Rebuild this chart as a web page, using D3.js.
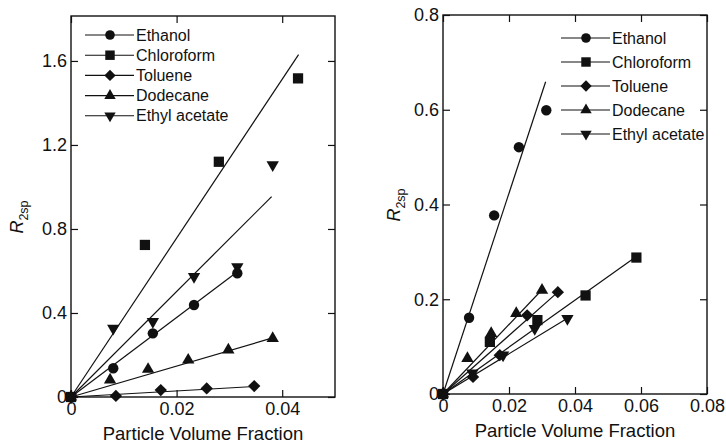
<!DOCTYPE html>
<html>
<head>
<meta charset="utf-8">
<script src="https://cdn.jsdelivr.net/npm/d3@7"></script>
<style>
  body { margin: 0; background: #fff; }
  text { font-family: "Liberation Sans", Arial, sans-serif; fill: #111; }
</style>
</head>
<body>
<div id="chart"></div>
<script>
// series names, same order in both panels
const solvents = ["Ethanol", "Chloroform", "Toluene", "Dodecane", "Ethyl acetate"];

// left panel: [volume fraction, R2sp]
const leftEthanol = [[0, 0], [0.0080, 0.137], [0.0155, 0.303], [0.0233, 0.438], [0.0315, 0.589]];
const leftChloroform = [[0, 0], [0.0140, 0.724], [0.0280, 1.12], [0.0430, 1.517]];
const leftToluene = [[0, 0], [0.0085, 0.005], [0.0170, 0.033], [0.0257, 0.041], [0.0347, 0.052]];
const leftDodecane = [[0, 0], [0.0074, 0.081], [0.0146, 0.132], [0.0222, 0.176], [0.0298, 0.224], [0.0382, 0.279]];
const leftEthylAcetate = [[0, 0], [0.0080, 0.327], [0.0155, 0.359], [0.0233, 0.573], [0.0315, 0.62], [0.0382, 1.105]];
// fitted lines through the origin (end points)
const leftFits = [
  [[0, 0], [0.0312, 0.59]],
  [[0, 0], [0.0431, 1.63]],
  [[0, 0], [0.0347, 0.05]],
  [[0, 0], [0.0380, 0.28]],
  [[0, 0], [0.0380, 0.954]]
];
const leftXTicks = [0, 0.02, 0.04];
const leftYTicks = [0, 0.4, 0.8, 1.2, 1.6];

// right panel
const rightEthanol = [[0, 0], [0.0079, 0.161], [0.0155, 0.377], [0.0230, 0.521], [0.0313, 0.599]];
const rightChloroform = [[0, 0], [0.0142, 0.110], [0.0286, 0.156], [0.0432, 0.208], [0.0586, 0.288]];
const rightToluene = [[0, 0], [0.0091, 0.036], [0.0172, 0.082], [0.0255, 0.166], [0.0348, 0.215]];
const rightDodecane = [[0, 0], [0.0074, 0.075], [0.0146, 0.128], [0.0222, 0.170], [0.0300, 0.219]];
const rightEthylAcetate = [[0, 0], [0.0089, 0.044], [0.0182, 0.082], [0.0278, 0.138], [0.0377, 0.159]];
const rightFits = [
  [[0, 0], [0.0311, 0.659]],
  [[0, 0], [0.0586, 0.29]],
  [[0, 0], [0.0348, 0.215]],
  [[0, 0], [0.0300, 0.22]],
  [[0, 0], [0.0377, 0.16]]
];
const rightXTicks = [0, 0.02, 0.04, 0.06, 0.08];
const rightYTicks = [0, 0.2, 0.4, 0.6, 0.8];

const symbolTypes = [d3.symbolCircle, d3.symbolSquare, d3.symbolSquare, d3.symbolTriangle, d3.symbolTriangle];
const symbolSizes = [85, 105, 76, 66, 66];
const symbolRotate = [0, 0, 45, 0, 180];

const svg = d3.select("#chart").append("svg")
  .attr("width", 726)
  .attr("height", 447)
  .style("background", "#fff");

function fmt(d) { return d === 0 ? "0" : d3.format(".2~f")(d); }

function drawPanel(p) {
  const x = d3.scaleLinear().domain(p.xDomain).range([p.left, p.right]);
  const y = d3.scaleLinear().domain(p.yDomain).range([p.bottom, p.top]);
  const g = svg.append("g");

  // frame with inward ticks on all four sides
  g.append("rect")
    .attr("x", p.left).attr("y", p.top)
    .attr("width", p.right - p.left).attr("height", p.bottom - p.top)
    .attr("fill", "none").attr("stroke", "#111").attr("stroke-width", 1.4);

  g.append("g").attr("transform", "translate(0," + p.bottom + ")")
    .call(d3.axisBottom(x).tickValues(p.xTicks).tickSize(-7).tickPadding(5).tickFormat(fmt))
    .call(a => a.select(".domain").remove());
  g.append("g").attr("transform", "translate(0," + p.top + ")")
    .call(d3.axisTop(x).tickValues(p.xTicks).tickSize(-7).tickFormat(""))
    .call(a => a.select(".domain").remove());
  g.append("g").attr("transform", "translate(" + p.left + ",0)")
    .call(d3.axisLeft(y).tickValues(p.yTicks).tickSize(-7).tickPadding(4).tickFormat(fmt))
    .call(a => a.select(".domain").remove());
  g.append("g").attr("transform", "translate(" + p.right + ",0)")
    .call(d3.axisRight(y).tickValues(p.yTicks).tickSize(-7).tickFormat(""))
    .call(a => a.select(".domain").remove());

  g.selectAll(".tick line").attr("stroke", "#111").attr("stroke-width", 1.2);
  g.selectAll(".tick text").style("font-size", "18px").attr("fill", "#111");

  // axis titles
  g.append("text")
    .attr("x", (p.left + p.right) / 2).attr("y", p.bottom + 43)
    .attr("text-anchor", "middle")
    .style("font-size", "18.5px")
    .text("Particle Volume Fraction");

  const yt = g.append("text")
    .attr("transform", "translate(" + p.yLabelX + "," + p.yLabelY + ") rotate(-90)")
    .attr("text-anchor", "middle")
    .style("font-size", "18px");
  yt.append("tspan").style("font-style", "italic").text("R");
  yt.append("tspan").attr("dy", 5).style("font-size", "12.5px").text("2sp");

  const line = d3.line().x(d => x(d[0])).y(d => y(d[1]));

  // fit lines
  g.selectAll(".fit").data(p.fits).join("path")
    .attr("d", line)
    .attr("fill", "none").attr("stroke", "#111").attr("stroke-width", 1.2);

  // markers
  p.series.forEach((pts, i) => {
    const sym = d3.symbol().type(symbolTypes[i]).size(symbolSizes[i]);
    g.selectAll(".m" + i).data(pts).join("path")
      .attr("d", sym)
      .attr("transform", d => "translate(" + x(d[0]) + "," + y(d[1]) + ") rotate(" + symbolRotate[i] + ")")
      .attr("fill", "#111");
  });

  // legend
  const lg = g.append("g");
  solvents.forEach((name, i) => {
    const ly = p.legendY + i * p.legendStep;
    lg.append("line")
      .attr("x1", p.legendX).attr("x2", p.legendX + 49)
      .attr("y1", ly).attr("y2", ly)
      .attr("stroke", "#111").attr("stroke-width", 1.1);
    lg.append("path")
      .attr("d", d3.symbol().type(symbolTypes[i]).size(symbolSizes[i] * 0.85))
      .attr("transform", "translate(" + (p.legendX + 25) + "," + ly + ") rotate(" + symbolRotate[i] + ")")
      .attr("fill", "#111");
    lg.append("text")
      .attr("x", p.legendX + 51).attr("y", ly)
      .attr("dy", "0.35em")
      .style("font-size", "16px")
      .text(name);
  });
}

drawPanel({
  left: 71, right: 335, top: 16, bottom: 397,
  xDomain: [0, 0.05], yDomain: [0, 1.814],
  xTicks: leftXTicks, yTicks: leftYTicks,
  series: [leftEthanol, leftChloroform, leftToluene, leftDodecane, leftEthylAcetate],
  fits: leftFits,
  legendX: 85, legendY: 35, legendStep: 20.2,
  yLabelX: 23, yLabelY: 217
});

drawPanel({
  left: 443, right: 707, top: 15, bottom: 394,
  xDomain: [0, 0.08], yDomain: [0, 0.8],
  xTicks: rightXTicks, yTicks: rightYTicks,
  series: [rightEthanol, rightChloroform, rightToluene, rightDodecane, rightEthylAcetate],
  fits: rightFits,
  legendX: 561, legendY: 38, legendStep: 24,
  yLabelX: 400, yLabelY: 205
});
</script>
</body>
</html>
